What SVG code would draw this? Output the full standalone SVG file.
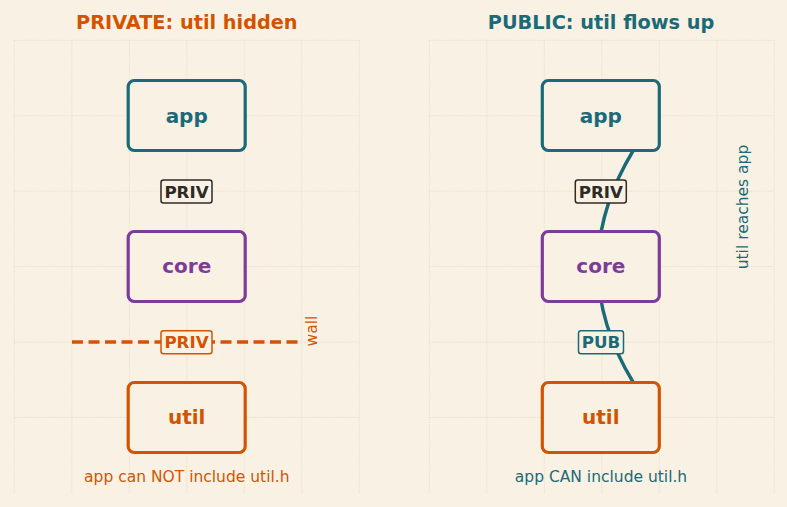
<svg xmlns="http://www.w3.org/2000/svg" width="787" height="507" viewBox="0 0 787 507">
<style>
text{font-family:"DejaVu Sans","Liberation Sans",sans-serif}
.bg{fill:#f9f2e4}
.grid line{stroke:#e2d8c2;stroke-width:0.8;stroke-dasharray:1.2 1.2}
.title{font-size:19.3px;font-weight:bold;text-anchor:middle}
.node rect{fill:#f9f2e4;stroke-width:3.2}
.node text{font-size:20px;font-weight:bold;text-anchor:middle}
.lbl rect{fill:#f9f2e4;stroke-width:1.5}
.lbl text{font-size:16.7px;font-weight:bold;text-anchor:middle}
.note{font-size:15.5px;text-anchor:middle}
.teal{fill:#1b6a78}
.orange{fill:#d35400}
.purple{fill:#7d3c98}
.dark{fill:#2e2a24}
</style>
<rect class="bg" x="0" y="0" width="787" height="507"/>
<g class="grid">
<line x1="14.3" y1="40.3" x2="14.3" y2="493"/>
<line x1="71.8" y1="40.3" x2="71.8" y2="493"/>
<line x1="129.3" y1="40.3" x2="129.3" y2="493"/>
<line x1="186.8" y1="40.3" x2="186.8" y2="493"/>
<line x1="244.3" y1="40.3" x2="244.3" y2="493"/>
<line x1="301.8" y1="40.3" x2="301.8" y2="493"/>
<line x1="359.3" y1="40.3" x2="359.3" y2="493"/>
<line x1="14.3" y1="40.3" x2="359.3" y2="40.3"/>
<line x1="14.3" y1="115.8" x2="359.3" y2="115.8"/>
<line x1="14.3" y1="191.2" x2="359.3" y2="191.2"/>
<line x1="14.3" y1="266.6" x2="359.3" y2="266.6"/>
<line x1="14.3" y1="342" x2="359.3" y2="342"/>
<line x1="14.3" y1="417.4" x2="359.3" y2="417.4"/>
<line x1="429.3" y1="40.3" x2="429.3" y2="493"/>
<line x1="486.8" y1="40.3" x2="486.8" y2="493"/>
<line x1="544.3" y1="40.3" x2="544.3" y2="493"/>
<line x1="601.8" y1="40.3" x2="601.8" y2="493"/>
<line x1="659.3" y1="40.3" x2="659.3" y2="493"/>
<line x1="716.8" y1="40.3" x2="716.8" y2="493"/>
<line x1="774.3" y1="40.3" x2="774.3" y2="493"/>
<line x1="429.3" y1="40.3" x2="774.3" y2="40.3"/>
<line x1="429.3" y1="115.8" x2="774.3" y2="115.8"/>
<line x1="429.3" y1="191.2" x2="774.3" y2="191.2"/>
<line x1="429.3" y1="266.6" x2="774.3" y2="266.6"/>
<line x1="429.3" y1="342" x2="774.3" y2="342"/>
<line x1="429.3" y1="417.4" x2="774.3" y2="417.4"/>
</g>
<text class="title orange" x="186.8" y="29">PRIVATE: util hidden</text>
<text class="title teal" x="601" y="29">PUBLIC: util flows up</text>
<g id="connectors">
<line x1="72" y1="342" x2="302" y2="342" stroke="#d35400" stroke-width="3.4" stroke-dasharray="11 5.5"/>
<path d="M633,151 Q563,266.5 633,382" fill="none" stroke="#1b6a78" stroke-width="3.4"/>
</g>
<g id="left-app" class="node"><rect x="128.2" y="80.5" width="117" height="70" rx="6" stroke="#1b6a78"/><text class="teal" x="186.7" y="122.5">app</text></g>
<g id="left-core" class="node"><rect x="128.2" y="231.5" width="117" height="70" rx="6" stroke="#7d3c98"/><text class="purple" x="186.7" y="273">core</text></g>
<g id="left-util" class="node"><rect x="128.2" y="382.5" width="117" height="70" rx="6" stroke="#d35400"/><text class="orange" x="186.7" y="423.5">util</text></g>
<g id="right-app" class="node"><rect x="542.3" y="80.5" width="117" height="70" rx="6" stroke="#1b6a78"/><text class="teal" x="600.8" y="122.5">app</text></g>
<g id="right-core" class="node"><rect x="542.3" y="231.5" width="117" height="70" rx="6" stroke="#7d3c98"/><text class="purple" x="600.8" y="273">core</text></g>
<g id="right-util" class="node"><rect x="542.3" y="382.5" width="117" height="70" rx="6" stroke="#d35400"/><text class="orange" x="600.8" y="423.5">util</text></g>
<g id="left-priv1" class="lbl"><rect x="161" y="180" width="51" height="23" rx="2.5" stroke="#2e2a24"/><text class="dark" x="186.5" y="197.5">PRIV</text></g>
<g id="left-priv2" class="lbl"><rect x="161" y="330.8" width="51" height="23" rx="2.5" stroke="#d35400"/><text class="orange" x="186.5" y="348.2">PRIV</text></g>
<g id="right-priv" class="lbl"><rect x="575.3" y="180" width="51" height="23" rx="2.5" stroke="#2e2a24"/><text class="dark" x="600.8" y="197.5">PRIV</text></g>
<g id="right-pub" class="lbl"><rect x="578.5" y="330.8" width="45" height="23" rx="2.5" stroke="#1b6a78"/><text class="teal" x="601" y="348.2">PUB</text></g>
<text class="note orange" transform="translate(317,331) rotate(-90)">wall</text>
<text class="note teal" transform="translate(748,207) rotate(-90)">util reaches app</text>
<text class="note orange" x="186.8" y="482">app can NOT include util.h</text>
<text class="note teal" x="601" y="482">app CAN include util.h</text>
</svg>
